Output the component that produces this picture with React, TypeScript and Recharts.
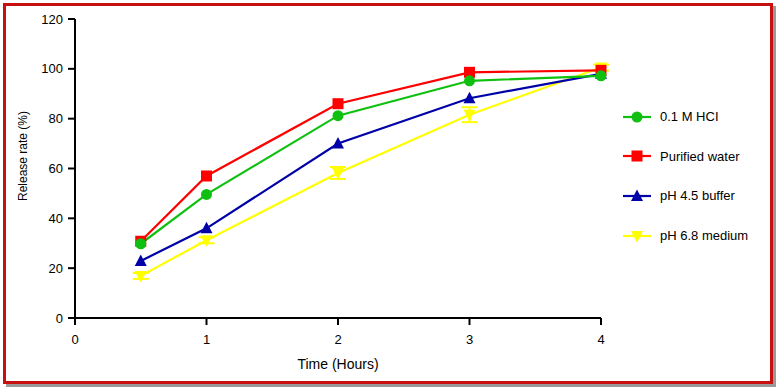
import React from "react";
import {
  LineChart,
  Line,
  XAxis,
  YAxis,
  ErrorBar,
} from "recharts";

const times = [0.5, 1, 2, 3, 4];
const hcl = [29.8, 49.6, 81.2, 95.2, 97.2];
const water = [30.8, 57, 86, 98.6, 99.4];
const ph45 = [22.9, 36, 70, 88.2, 98];
const ph68 = [16.9, 31.2, 58.2, 81.6, 100.5];
const ph68Err = [1.2, 1.2, 2.4, 3, 1.2];
const xTicks = [0, 1, 2, 3, 4];
const yTicks = [0, 20, 40, 60, 80, 100, 120];

const data = times.map((t, i) => ({
  t,
  hcl: hcl[i],
  water: water[i],
  ph45: ph45[i],
  ph68: ph68[i],
  ph68Err: ph68Err[i],
}));

type Shape = "circle" | "square" | "up" | "down";

const series: { key: string; name: string; color: string; shape: Shape }[] = [
  { key: "ph68", name: "pH 6.8 medium", color: "#ffff00", shape: "down" },
  { key: "ph45", name: "pH 4.5 buffer", color: "#0000a8", shape: "up" },
  { key: "water", name: "Purified water", color: "#ff0000", shape: "square" },
  { key: "hcl", name: "0.1 M HCI", color: "#10c010", shape: "circle" },
];
const legendOrder = ["hcl", "water", "ph45", "ph68"];

const marker = (shape: Shape, x: number, y: number, color: string, key?: React.Key) => {
  if (shape === "circle") return <circle key={key} cx={x} cy={y} r={5.5} fill={color} />;
  if (shape === "square")
    return <rect key={key} x={x - 5.5} y={y - 5.5} width={11} height={11} fill={color} />;
  if (shape === "up")
    return <path key={key} d={`M${x},${y - 6.5}L${x + 6},${y + 5}L${x - 6},${y + 5}Z`} fill={color} />;
  return <path key={key} d={`M${x},${y + 6.5}L${x + 6},${y - 5}L${x - 6},${y - 5}Z`} fill={color} />;
};

const font = "'Liberation Sans', Arial, sans-serif";

const YLabel = () => (
  <text
    x={23}
    y={156}
    transform="rotate(-90, 23, 156)"
    textAnchor="middle"
    dominantBaseline="central"
    fill="#000"
    fontSize={12}
  >
    Release rate (%)
  </text>
);

const App = () => {
  return (
    <div style={{ position: "absolute", left: 0, top: 0, width: 782, height: 390, background: "#fff" }}>
      <div
        style={{
          position: "absolute",
          left: 3,
          top: 3,
          width: 764,
          height: 375,
          border: "3px solid #c81010",
          boxShadow: "3px 3px 0 #9a9a9a",
        }}
      />
      <LineChart
        width={782}
        height={390}
        data={data}
        margin={{ top: 19, right: 181, left: 15, bottom: 32 }}
        style={{ position: "absolute", left: 0, top: 0, fontFamily: font }}
      >
        <XAxis
          dataKey="t"
          type="number"
          domain={[0, 4]}
          ticks={xTicks}
          height={40}
          stroke="#000"
          strokeWidth={2}
          tickSize={7}
          tickMargin={10}
          tick={{ fill: "#000", fontSize: 13 }}
          label={{ value: "Time (Hours)", position: "bottom", offset: 1, fill: "#000", fontSize: 14 }}
        />
        <YAxis
          type="number"
          domain={[0, 120]}
          ticks={yTicks}
          width={60}
          stroke="#000"
          strokeWidth={2}
          tickSize={7}
          tickMargin={5}
          tick={{ fill: "#000", fontSize: 13 }}
          label={{ content: () => <YLabel /> }}
        />
        {series.map((s) => (
          <Line
            key={s.key}
            dataKey={s.key}
            name={s.name}
            stroke={s.color}
            strokeWidth={2.2}
            isAnimationActive={false}
            dot={(p: any) => marker(s.shape, p.cx, p.cy, s.color, p.index)}
            activeDot={false}
          >
            {s.key === "ph68" && (
              <ErrorBar dataKey="ph68Err" direction="y" width={8} stroke={s.color} strokeWidth={2} />
            )}
          </Line>
        ))}
      </LineChart>
      <div style={{ position: "absolute", left: 620, top: 97, fontFamily: font, fontSize: 13, color: "#000" }}>
        {legendOrder.map((k) => {
          const s = series.find((x) => x.key === k)!;
          return (
            <div key={k} style={{ display: "flex", alignItems: "center", height: 39.6 }}>
              <svg width={36} height={20}>
                <line x1={3} y1={10} x2={31} y2={10} stroke={s.color} strokeWidth={2.2} />
                {marker(s.shape, 17, 10, s.color)}
              </svg>
              <span style={{ marginLeft: 4 }}>{s.name}</span>
            </div>
          );
        })}
      </div>
    </div>
  );
};

export default App;
